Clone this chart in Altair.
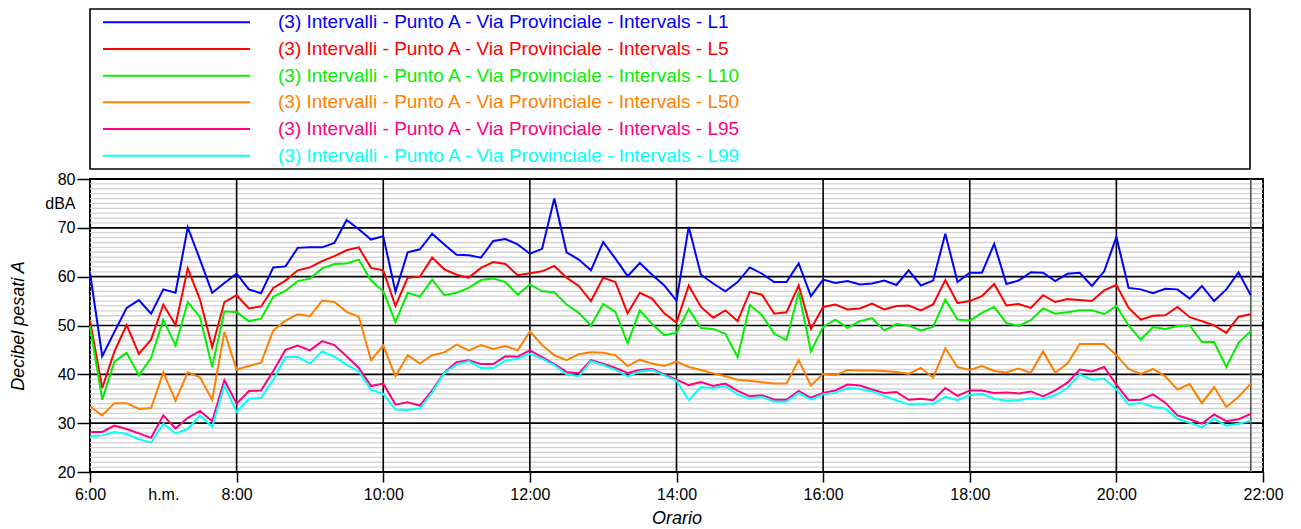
import altair as alt
import pandas as pd

# ---------------- data ----------------
series_names = [
    "(3) Intervalli - Punto A - Via Provinciale - Intervals - L1",
    "(3) Intervalli - Punto A - Via Provinciale - Intervals - L5",
    "(3) Intervalli - Punto A - Via Provinciale - Intervals - L10",
    "(3) Intervalli - Punto A - Via Provinciale - Intervals - L50",
    "(3) Intervalli - Punto A - Via Provinciale - Intervals - L95",
    "(3) Intervalli - Punto A - Via Provinciale - Intervals - L99",
]
series_colors = ["#0000ff", "#ff0000", "#00f000", "#ff8000", "#ff0080", "#00ffff"]

start_hour = 6.0
step_minutes = 10

L1 = [60.8, 43.7, 48.7, 53.6, 55.2, 52.4, 57.4, 56.7, 70.1, 63.5, 56.7, 58.7,
      60.6, 57.4, 56.6, 61.9, 62.1, 65.9, 66.0, 66.0, 66.9, 71.6, 69.7, 67.6,
      68.3, 56.9, 65.0, 65.6, 68.8, 66.6, 64.5, 64.4, 63.9, 67.3, 67.7, 66.6,
      64.7, 65.7, 76.0, 65.0, 63.5, 61.3, 67.1, 63.7, 60.1, 62.8, 60.4, 58.2,
      55.1, 70.2, 60.4, 58.6, 57.0, 58.9, 61.9, 60.6, 58.9, 58.9, 62.7, 56.0,
      59.4, 58.7, 59.1, 58.4, 58.6, 59.2, 58.3, 61.3, 58.2, 59.2, 68.8, 58.9,
      60.8, 60.8, 66.7, 58.5, 59.2, 60.9, 60.8, 59.1, 60.6, 60.8, 58.1, 61.1,
      68.1, 57.7, 57.4, 56.6, 57.5, 57.4, 55.5, 58.1, 55.0, 57.4, 60.9, 56.2]
L5 = [51.0, 37.2, 44.7, 50.1, 44.2, 47.1, 54.3, 50.1, 61.7, 55.3, 45.6, 54.8,
      56.2, 53.5, 53.9, 57.7, 59.2, 61.3, 61.9, 63.2, 64.2, 65.4, 66.0, 61.8,
      61.3, 54.0, 59.8, 60.0, 63.9, 61.5, 60.4, 59.8, 61.8, 63.0, 62.6, 60.3,
      60.7, 61.1, 62.2, 59.8, 58.1, 55.0, 59.8, 58.9, 52.5, 56.7, 55.5, 52.5,
      50.6, 58.2, 53.8, 51.6, 53.1, 50.9, 56.9, 56.3, 52.4, 52.7, 58.2, 49.3,
      53.8, 54.3, 53.3, 53.5, 54.5, 53.3, 54.0, 54.1, 53.1, 54.3, 59.3, 54.6,
      55.0, 56.0, 58.5, 54.1, 54.4, 53.6, 56.2, 54.8, 55.4, 55.2, 55.0, 57.2,
      58.3, 53.6, 51.2, 52.0, 52.1, 53.8, 51.7, 50.9, 50.0, 48.5, 51.8, 52.3]
L10 = [49.9, 34.8, 42.6, 44.4, 39.8, 43.4, 51.2, 45.9, 54.8, 51.7, 41.5, 52.9,
       52.7, 50.9, 51.4, 55.9, 57.1, 59.1, 59.6, 61.7, 62.6, 62.7, 63.5, 59.2,
       57.0, 50.7, 56.7, 55.9, 59.4, 56.2, 56.7, 57.7, 59.3, 59.6, 58.9, 56.3,
       58.4, 57.0, 56.8, 54.3, 52.6, 50.0, 54.4, 52.8, 46.4, 53.1, 50.3, 48.0,
       48.5, 53.4, 49.5, 49.3, 48.3, 43.5, 54.2, 52.1, 48.3, 47.0, 56.8, 44.7,
       49.7, 51.2, 49.5, 50.9, 51.5, 49.0, 50.3, 50.0, 49.0, 49.7, 55.3, 51.2,
       51.0, 52.6, 53.8, 50.5, 49.9, 51.1, 53.5, 52.4, 52.7, 53.1, 53.1, 52.3,
       54.0, 50.0, 47.1, 49.7, 49.3, 49.9, 50.0, 46.6, 46.6, 41.5, 46.5, 48.8]
L50 = [33.4, 31.6, 34.1, 34.1, 32.9, 33.1, 40.4, 34.6, 40.4, 39.4, 34.8, 48.7,
       41.0, 41.7, 42.4, 49.0, 51.0, 52.3, 51.9, 55.1, 54.8, 52.8, 51.8, 42.9,
       45.9, 39.6, 43.9, 42.2, 43.9, 44.5, 46.1, 44.9, 46.0, 45.2, 45.8, 44.9,
       48.8, 46.0, 43.9, 42.9, 44.1, 44.5, 44.4, 43.9, 41.7, 43.0, 42.2, 41.7,
       42.6, 41.5, 40.9, 40.2, 39.6, 38.9, 38.7, 38.4, 38.1, 38.1, 42.9, 37.7,
       40.1, 39.8, 40.9, 40.8, 40.8, 40.7, 40.5, 40.1, 41.3, 39.3, 45.3, 41.5,
       40.9, 41.7, 40.7, 40.4, 41.2, 40.3, 44.7, 40.3, 42.2, 46.2, 46.2, 46.2,
       43.9, 41.1, 40.1, 41.1, 39.6, 36.9, 38.0, 34.1, 37.4, 33.3, 35.4, 38.1]
L95 = [28.2, 28.2, 29.5, 28.8, 27.9, 27.0, 31.6, 28.9, 31.1, 32.5, 30.4, 38.8,
       34.0, 36.6, 36.7, 40.7, 45.0, 45.9, 44.9, 46.8, 46.0, 43.7, 41.3, 37.6,
       38.1, 33.8, 34.3, 33.6, 36.7, 40.4, 42.5, 42.9, 42.1, 42.1, 43.7, 43.6,
       44.9, 43.5, 42.1, 40.5, 40.2, 42.9, 42.2, 41.3, 40.3, 40.9, 41.1, 40.0,
       38.9, 37.8, 38.4, 37.6, 38.1, 36.6, 35.5, 35.7, 34.8, 34.8, 36.6, 35.2,
       36.2, 36.7, 37.9, 37.7, 36.9, 36.2, 36.4, 34.8, 35.0, 34.7, 37.2, 35.6,
       36.7, 36.7, 36.2, 36.3, 36.1, 36.5, 35.5, 36.7, 38.3, 41.0, 40.6, 41.5,
       37.9, 34.7, 34.8, 35.9, 34.2, 31.6, 30.8, 29.9, 31.8, 30.4, 30.8, 31.9]
L99 = [27.3, 27.5, 28.2, 27.8, 26.7, 26.0, 29.9, 27.9, 28.8, 31.6, 29.3, 37.7,
       32.3, 35.0, 35.2, 38.9, 43.5, 43.6, 42.2, 44.7, 43.6, 42.0, 40.6, 36.8,
       36.0, 32.8, 32.7, 33.0, 36.3, 40.3, 42.0, 42.7, 41.3, 41.3, 42.8, 43.2,
       44.2, 43.2, 41.9, 40.0, 39.6, 42.7, 41.9, 40.9, 39.6, 40.6, 40.9, 39.8,
       38.7, 34.7, 37.4, 37.2, 37.6, 35.9, 35.0, 35.4, 34.4, 34.4, 36.2, 34.8,
       35.9, 36.2, 37.2, 37.0, 36.5, 35.6, 34.7, 33.8, 34.0, 34.0, 35.4, 34.7,
       35.7, 36.0, 35.0, 34.6, 34.7, 35.1, 35.0, 35.7, 37.2, 40.0, 38.9, 39.1,
       36.9, 33.8, 34.2, 33.3, 33.0, 30.9, 30.1, 29.2, 30.9, 29.5, 29.9, 30.5]

series_values = [L1, L5, L10, L50, L95, L99]

y_minor = [v for v in range(21, 80) if v % 10 != 0]
y_major = [30, 40, 50, 60, 70]
x_major = [8, 10, 12, 14, 16, 18, 20]
x_tick_values = [6, 7, 8, 10, 12, 14, 16, 18, 20, 22]
y_tick_values = [20, 30, 40, 50, 60, 70, 75, 80]

FONT = "Liberation Sans"

# ---------------- tables ----------------
rows = []
for name, vals in zip(series_names, series_values):
    for i, v in enumerate(vals):
        rows.append({"name": name, "hour": start_hour + i * step_minutes / 60.0, "value": v})
df = pd.DataFrame(rows)
last_hour = df["hour"].max()

color_scale = alt.Scale(domain=series_names, range=series_colors)

x_enc = lambda f: alt.X(
    f, type="quantitative",
    scale=alt.Scale(domain=[6, 22], nice=False, zero=False),
    axis=alt.Axis(
        values=x_tick_values,
        labelExpr="datum.value == 7 ? 'h.m.' : datum.value + ':00'",
        tickOpacity={"condition": {"test": "datum.value == 7", "value": 0}, "value": 1},
        grid=False, domain=False, tickSize=10, tickWidth=1.5, tickColor="black",
        labelPadding=4, labelFontSize=16, labelColor="black", labelFont=FONT,
        title="Orario", titleFont=FONT, titleFontSize=18, titleFontStyle="italic",
        titleFontWeight="normal", titleColor="black", titlePadding=7,
        labelFlush=False, labelOverlap=False,
    ),
)
y_enc = lambda f: alt.Y(
    f, type="quantitative",
    scale=alt.Scale(domain=[20, 80], nice=False, zero=False),
    axis=alt.Axis(
        values=y_tick_values,
        labelExpr="datum.value == 75 ? 'dBA' : datum.label",
        tickOpacity={"condition": {"test": "datum.value == 75", "value": 0}, "value": 1},
        grid=False, domain=False, tickSize=13, tickWidth=1.5, tickColor="black",
        labelPadding=2, labelFontSize=16, labelColor="black", labelFont=FONT,
        title="Decibel pesati A", titleFont=FONT, titleFontSize=18,
        titleFontStyle="italic", titleFontWeight="normal", titleColor="black",
        titlePadding=17, labelOverlap=False,
    ),
)

minor = alt.Chart(pd.DataFrame({"gy": y_minor})).mark_rule(
    color="#d2d2d2", strokeWidth=1.3).encode(y=y_enc("gy"))
major = alt.Chart(pd.DataFrame({"gy": y_major})).mark_rule(
    color="black", strokeWidth=1.6).encode(y=y_enc("gy"))
vert = alt.Chart(pd.DataFrame({"gx": x_major})).mark_rule(
    color="black", strokeWidth=1.6).encode(x=x_enc("gx"))
endline = alt.Chart(pd.DataFrame({"gx": [last_hour]})).mark_rule(
    color="#555555", strokeWidth=1.6).encode(x=x_enc("gx"))
lines = alt.Chart(df).mark_line(strokeWidth=2).encode(
    x=x_enc("hour"),
    y=y_enc("value"),
    color=alt.Color("name:N", scale=color_scale, legend=None),
    detail="name:N",
)

main = alt.layer(minor, major, vert, endline, lines).properties(
    width=1173, height=293,
    view=alt.ViewBackground(stroke="black", strokeWidth=2),
)

# ---------------- legend panel ----------------
leg_df = pd.DataFrame({"name": series_names})
y_leg = alt.Y("name:N", scale=alt.Scale(type="point", domain=series_names, padding=0.5), axis=None)
leg_rule = alt.Chart(leg_df).mark_rule(strokeWidth=2).encode(
    x=alt.value(13), x2=alt.value(160), y=y_leg,
    color=alt.Color("name:N", scale=color_scale, legend=None),
)
leg_text = alt.Chart(leg_df).mark_text(
    align="left", baseline="middle", fontSize=19, font=FONT).encode(
    x=alt.value(188), y=y_leg, text="name:N",
    color=alt.Color("name:N", scale=color_scale, legend=None),
)
legend = alt.layer(leg_rule, leg_text).properties(
    width=1160, height=160,
    view=alt.ViewBackground(stroke="black", strokeWidth=1.6),
)

chart = alt.vconcat(legend, main, spacing=10, bounds="flush").properties(
    padding={"left": 0, "top": 0, "right": 0, "bottom": 0}
).configure_view(
    stroke="black", strokeWidth=1.6
).configure(background="white")

chart.save("out.html", embed_options={"renderer": "svg", "actions": False})
